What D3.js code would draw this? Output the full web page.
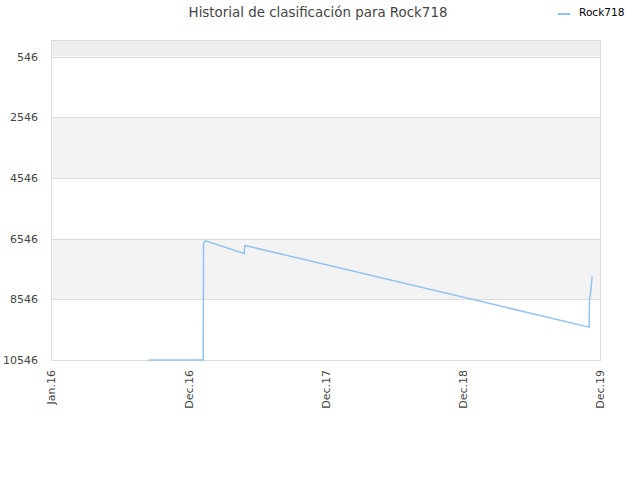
<!DOCTYPE html>
<html>
<head>
<meta charset="utf-8">
<script src="https://cdn.jsdelivr.net/npm/d3@7"></script>
<style>
  body { margin: 0; background: #fff; }
  svg { font-family: "DejaVu Sans", sans-serif; }
</style>
</head>
<body>
<svg id="chart" width="640" height="480"></svg>
<script>
// data
const rankDates = ['2016-09-16', '2017-02-08', '2017-02-09', '2017-02-10', '2017-02-14',
  '2017-05-28', '2017-05-30', '2019-12-02', '2019-12-03', '2019-12-05', '2019-12-07', '2019-12-10']
const rankValues = [10546, 10546, 6740, 6680, 6619,
  7035, 6771, 9462, 8546, 8420, 8216, 7786]
const yTicks = [546, 2546, 4546, 6546, 8546, 10546]
const xTickDates = ['2015-12-31', '2016-12-31', '2017-12-31', '2018-12-31', '2019-12-31']
const xTickLabels = ['Jan.16', 'Dec.16', 'Dec.17', 'Dec.18', 'Dec.19']

const parse = d3.utcParse('%Y-%m-%d')
const svg = d3.select('#chart')
const plotLeft = 51, plotRight = 600, plotTop = 40, plotBottom = 360

const x = d3.scaleUtc()
  .domain([parse(xTickDates[0]), parse(xTickDates[xTickDates.length - 1])])
  .range([plotLeft, plotRight])
const y = d3.scaleLinear().domain([0, 10546]).range([plotTop, plotBottom])

// alternating bands
const bandEdges = [0].concat(yTicks)
for (let i = 0; i < bandEdges.length - 1; i++) {
  svg.append('rect')
    .attr('x', plotLeft)
    .attr('y', y(bandEdges[i]))
    .attr('width', plotRight - plotLeft)
    .attr('height', y(bandEdges[i + 1]) - y(bandEdges[i]))
    .style('fill', i === 0 ? '#eeeeee' : (i % 2 === 0 ? '#f3f3f3' : '#ffffff'))
}

// grid lines
svg.append('g').selectAll('line')
  .data(yTicks)
  .join('line')
  .attr('x1', plotLeft).attr('x2', plotRight)
  .attr('y1', d => Math.round(y(d)) + 0.5).attr('y2', d => Math.round(y(d)) + 0.5)
  .style('stroke', '#dddddd')

// plot frame
svg.append('rect')
  .attr('x', plotLeft + 0.5).attr('y', plotTop + 0.5)
  .attr('width', plotRight - plotLeft).attr('height', plotBottom - plotTop)
  .style('fill', 'none')
  .style('stroke', '#dddddd')

// y axis labels
svg.append('g').selectAll('text')
  .data(yTicks)
  .join('text')
  .attr('x', 38)
  .attr('y', d => y(d) + 4)
  .attr('text-anchor', 'end')
  .attr('font-size', '11px')
  .style('fill', '#444')
  .text(d => d)

// x axis labels
svg.append('g').selectAll('text')
  .data(xTickDates)
  .join('text')
  .attr('transform', d => `translate(${x(parse(d)) + 4},370) rotate(-90)`)
  .attr('text-anchor', 'end')
  .attr('font-size', '11px')
  .style('fill', '#444')
  .text((d, i) => xTickLabels[i])

// the line
const points = rankDates.map((d, i) => [parse(d), rankValues[i]])
const line = d3.line().x(d => x(d[0])).y(d => y(d[1]))
svg.append('path')
  .datum(points)
  .attr('d', line)
  .style('fill', 'none')
  .style('stroke', '#92c3f2')
  .style('stroke-width', 1.5)

// title
svg.append('text')
  .attr('x', 318)
  .attr('y', 17)
  .attr('text-anchor', 'middle')
  .attr('font-size', '13.4px')
  .style('fill', '#444')
  .text('Historial de clasificación para Rock718')

// legend
svg.append('line')
  .attr('x1', 558).attr('x2', 570)
  .attr('y1', 14).attr('y2', 14)
  .style('stroke', '#92c3f2')
  .style('stroke-width', 2)
svg.append('text')
  .attr('x', 579)
  .attr('y', 16)
  .attr('font-size', '10.6px')
  .style('fill', '#000')
  .text('Rock718')
</script>
</body>
</html>
